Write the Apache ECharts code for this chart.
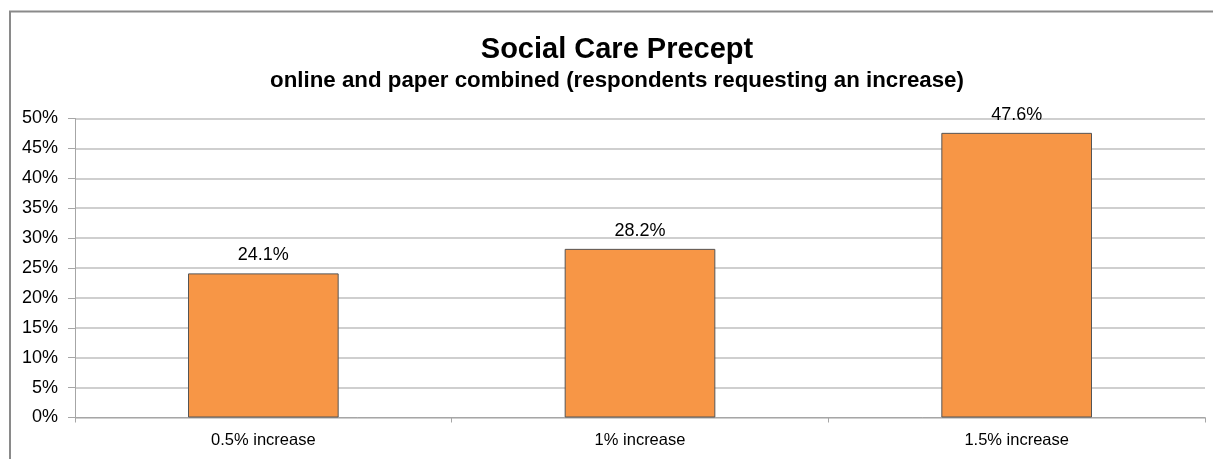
<!DOCTYPE html>
<html>
<head>
<meta charset="utf-8">
<style>
  html, body { margin: 0; padding: 0; background: #fff; }
  #chart { width: 1213px; height: 459px; }
</style>
<script src="https://cdn.jsdelivr.net/npm/echarts@6/dist/echarts.min.js"></script>
</head>
<body>
<div id="chart"></div>
<script>
// Share of respondents requesting each size of increase
const categories = ['0.5% increase', '1% increase', '1.5% increase'];
const shares = [24.1, 28.2, 47.6];
const titleText = 'Social Care Precept';
const subtitleText = 'online and paper combined (respondents requesting an increase)';

const FONT = '"Liberation Sans", Arial, sans-serif';
const chart = echarts.init(document.getElementById('chart'), null, { renderer: 'canvas' });

chart.setOption({
  backgroundColor: '#ffffff',
  animation: false,
  graphic: [
    {
      type: 'rect',
      shape: { x: 10, y: 11.5, width: 1400, height: 600 },
      style: { fill: 'none', stroke: '#8a8a8a', lineWidth: 2 },
      silent: true
    },
    {
      type: 'text',
      x: 617,
      y: 35,
      style: { text: titleText, font: 'bold 29px ' + FONT, fill: '#000', align: 'center', verticalAlign: 'top' }
    },
    {
      type: 'text',
      x: 617,
      y: 70,
      style: { text: subtitleText, font: 'bold 22.3px ' + FONT, fill: '#000', align: 'center', verticalAlign: 'top' }
    }
  ],
  grid: { left: 75, right: 8, top: 118.5, bottom: 41.5, containLabel: false },
  xAxis: {
    type: 'category',
    data: categories,
    axisLine: { lineStyle: { color: '#a6a6a6', width: 1 } },
    axisTick: { show: true, alignWithLabel: false, length: 5, lineStyle: { color: '#a6a6a6' } },
    axisLabel: { color: '#000', fontSize: 16.5, fontFamily: FONT, margin: 14 }
  },
  yAxis: {
    type: 'value',
    min: 0,
    max: 50,
    interval: 5,
    axisLine: { show: true, lineStyle: { color: '#a6a6a6', width: 1 } },
    axisTick: { show: true, length: 7, lineStyle: { color: '#a6a6a6' } },
    axisLabel: { color: '#000', fontSize: 18, fontFamily: FONT, margin: 17, formatter: '{value}%' },
    splitLine: { show: true, lineStyle: { color: '#bfbfbf', width: 1.5 } }
  },
  series: [{
    type: 'bar',
    data: shares,
    barWidth: '40%',
    itemStyle: { color: '#F79646', borderColor: '#555555', borderWidth: 1 },
    label: {
      show: true,
      position: 'top',
      distance: 9,
      color: '#000',
      fontSize: 18,
      fontFamily: FONT,
      formatter: p => p.value.toFixed(1) + '%'
    }
  }]
});
</script>
</body>
</html>
